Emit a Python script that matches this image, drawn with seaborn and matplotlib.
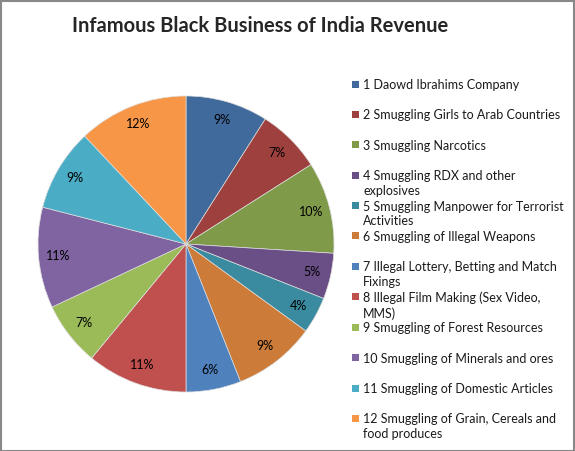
import matplotlib
matplotlib.use("Agg")
import matplotlib.pyplot as plt
from matplotlib.patches import Rectangle
import seaborn as sns

# data
labels = [
    "1 Daowd Ibrahims Company",
    "2 Smuggling Girls to Arab Countries",
    "3 Smuggling Narcotics",
    "4 Smuggling RDX and other\nexplosives",
    "5 Smuggling Manpower for Terrorist\nActivities",
    "6 Smuggling of Illegal Weapons",
    "7 Illegal Lottery, Betting and Match\nFixings",
    "8 Illegal Film Making (Sex Video,\nMMS)",
    "9 Smuggling of Forest Resources",
    "10 Smuggling of Minerals and ores",
    "11 Smuggling of Domestic Articles",
    "12 Smuggling of Grain, Cereals and\nfood produces",
]
revenue_pct = [9, 7, 10, 5, 4, 9, 6, 11, 7, 11, 9, 12]
colors = ["#406A9C", "#9E413E", "#7F9A48", "#6A4E86", "#3B8BA0", "#CC7B38",
          "#4F81BD", "#C0504D", "#9BBB59", "#8064A2", "#4BACC6", "#F79646"]

sns.set_theme(style="white")
plt.rcParams["font.family"] = ["Lato", "DejaVu Sans"]

W, H = 575, 451
fig = plt.figure(figsize=(W / 100, H / 100), dpi=100)

# pie centred at (186, 244) px, radius 148 px
cx, cy, r = 186, 244, 148
ax = fig.add_axes([(cx - r) / W, (H - cy - r) / H, 2 * r / W, 2 * r / H])
palette = sns.color_palette(colors)
wedges, texts, autotexts = ax.pie(
    revenue_pct, colors=palette, startangle=90, counterclock=False,
    autopct="%1.0f%%", pctdistance=0.87,
    wedgeprops=dict(edgecolor="#dddddd", linewidth=0.5),
    textprops=dict(fontsize=9, color="black"))
ax.set_xlim(-1, 1)
ax.set_ylim(-1, 1)
ax.set_aspect("equal")
ax.axis("off")

fig.text(260 / W, 1 - 26 / H, "Infamous Black Business of India Revenue",
         ha="center", va="center", fontsize=14.5, fontweight="bold")

# legend, uniform spacing as in the reference
for i, (lab, col) in enumerate(zip(labels, palette)):
    yc = 84 + 30.4 * i
    fig.patches.append(Rectangle((352 / W, 1 - (yc + 3.5) / H), 7 / W, 7 / H,
                                 transform=fig.transFigure, facecolor=col,
                                 edgecolor="none"))
    fig.text(363 / W, 1 - (yc - 5) / H, lab, ha="left", va="top",
             fontsize=9, color="#1a1a1a", linespacing=1.25)

fig.patches.append(Rectangle((0.5 / W, 0.5 / H), 1 - 1.5 / W, 1 - 1.5 / H,
                             transform=fig.transFigure, facecolor="none",
                             edgecolor="#888888", linewidth=1.5))

fig.savefig("out.png", dpi=100)
